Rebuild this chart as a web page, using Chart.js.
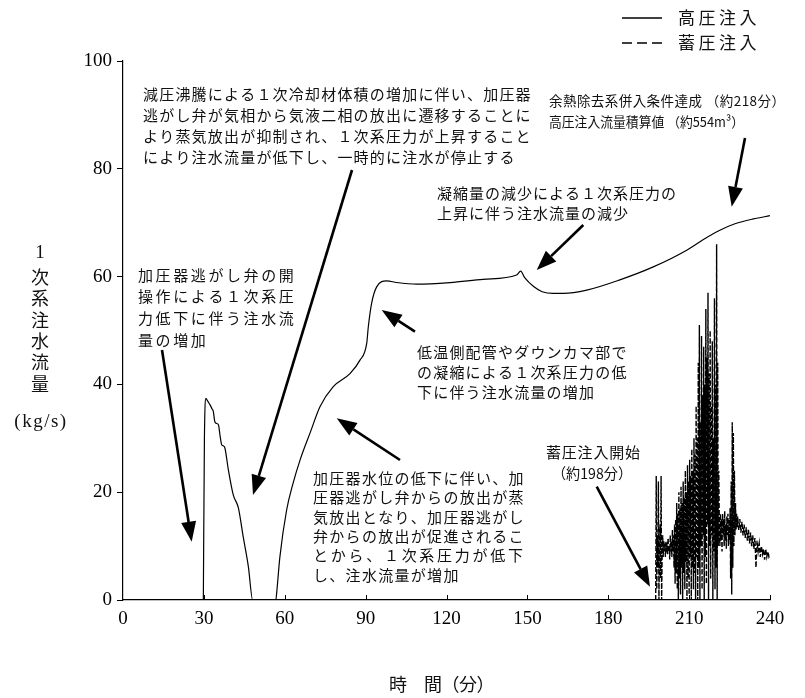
<!DOCTYPE html>
<html lang="ja">
<head>
<meta charset="utf-8">
<title>1次系注水流量</title>
<script src="https://cdn.jsdelivr.net/npm/chart.js@4.4.1/dist/chart.umd.min.js"></script>
<style>
  html, body { margin: 0; padding: 0; background: #fff; }
  #wrap { width: 805px; height: 698px; }
</style>
</head>
<body>
<div id="wrap"><canvas id="grafico" width="805" height="698"></canvas></div>
<script>
// Ejes
const xTicks = [0, 30, 60, 90, 120, 150, 180, 210, 240];
const yTicks = [0, 20, 40, 60, 80, 100];

// 高圧注入 (tiempo en min, caudal en kg/s)
const hpTime = [29.8, 30.2, 30.8, 31.3, 32.3, 33.0, 33.5, 34.0, 34.5, 35.4,
  36.0, 36.6, 37.2, 37.8, 39.1, 40.9, 42.8, 44.6, 46.5, 48.1,
  56.7, 57.0, 58.2, 60.7, 63.0, 65.7, 69.4, 73.1, 78.0, 84.2,
  87.9, 90.4, 91.0, 92.2, 94.1, 97.8, 101.5, 108.9, 121.3, 133.6,
  146.0, 147.5, 149.0, 152.2, 155.5, 159.6, 163.3, 172.0, 184.3, 196.7,
  209.1, 215.0, 221.4, 227.0, 233.8, 240.0];
const hpFlow = [0, 30, 37.4, 37.0, 36.2, 35.5, 35.0, 33.2, 32.8, 32.5,
  30.5, 28.8, 28.6, 28.2, 24.1, 19.5, 17.1, 11.7, 6.2, 0,
  0, 1.3, 8, 16.7, 21.5, 26, 31, 35.9, 39.6, 42,
  44.5, 47.6, 50.7, 55, 58.1, 59.2, 58.9, 58.6, 58.9, 59.5,
  60.3, 61.0, 59.8, 58.2, 57.2, 56.9, 56.9, 57.5, 59.4, 61.8,
  64.9, 66.8, 68.6, 69.8, 70.7, 71.3];

// 蓄圧注入 (tiempo en min, caudal en kg/s)
const accTime = [
  197.6, 197.8, 198.0, 198.2, 198.4, 198.6, 198.8, 199.0, 199.2, 199.4, 199.6, 199.8, 200.0, 200.2,
  200.4, 200.6, 200.8, 201.0, 201.2, 201.4, 201.6, 201.8, 202.0, 202.2, 202.4, 202.6, 202.8, 203.0,
  203.2, 203.4, 203.6, 203.8, 204.0, 204.2, 204.4, 204.6,
  204.8, 205.0, 205.2, 205.4, 205.6, 205.8, 206.0, 206.2, 206.4, 206.6, 206.8, 207.0, 207.2, 207.4,
  207.6, 207.8, 208.0, 208.2, 208.4, 208.6, 208.8, 209.0, 209.2, 209.4, 209.6, 209.8, 210.0, 210.2,
  210.4, 210.6, 210.8, 211.0, 211.2, 211.4, 211.6, 211.8,
  212.0, 212.2, 212.4, 212.6, 212.8, 213.0, 213.2, 213.4, 213.6, 213.8, 214.0, 214.2, 214.4, 214.6,
  214.8, 215.0, 215.2, 215.4, 215.6, 215.8, 216.0, 216.2, 216.4, 216.6, 216.8, 217.0, 217.2, 217.4,
  217.6, 217.8, 218.0, 218.2, 218.4, 218.6, 218.8, 219.0, 219.2, 219.4, 219.6, 219.8, 220.0, 220.2,
  220.4, 220.6, 220.8, 221.0,
  221.2, 221.4, 221.6, 221.8, 222.0, 222.2, 222.4, 222.6, 222.8, 223.0, 223.2, 223.4, 223.6, 223.8,
  224.0, 224.2, 224.4, 224.6, 224.8, 225.0, 225.2, 225.4, 225.6,
  225.8, 226.0, 226.2, 226.4, 226.6, 226.8, 227.0, 227.2,
  227.4, 227.6, 227.8, 228.0, 228.4, 228.8, 229.2, 229.6, 230.0, 230.4, 230.8, 231.2, 231.6, 232.0,
  232.4, 232.8, 233.2, 233.6, 234.0, 234.4, 234.8, 235.2, 235.6, 236.0, 236.4, 236.8, 237.2, 237.6,
  238.0, 238.4, 238.8, 239.2, 239.6, 240.0];
const accFlow = [
  0, 23, 2, 12, 6, 22, 0, 10, 14, 4, 23, 0, 9, 12,
  8, 11, 9, 10.5, 8, 11, 9.5, 10, 8.5, 11.5, 9, 10, 7.5, 12,
  9, 11, 8, 13, 9, 12, 6, 14,
  3, 15, 5, 18, 2, 16, 0, 20, 4, 17, 1, 21, 6, 18,
  0, 22, 5, 19, 2, 24, 7, 20, 0, 25, 4, 22, 1, 26,
  8, 23, 0, 28, 6, 24, 2, 30,
  5, 27, 0, 36, 8, 30, 0, 44, 6, 51, 0, 33, 10, 49,
  2, 38, 12, 47, 0, 40, 8, 54, 3, 45, 14, 57, 0, 42,
  10, 50, 4, 36, 12, 48, 0, 30, 9, 56, 2, 40, 6, 66,
  0, 44, 10, 24,
  14, 10, 16, 11, 15, 9, 16, 12, 15, 10, 16.5, 11, 14, 9.5,
  15.5, 12, 16, 10, 15, 11, 17, 4, 22,
  1, 33, 6, 31, 10, 24, 12, 18,
  13, 16, 13.5, 15.5, 13, 15, 12.5, 14.5, 12, 14, 11.5, 13.5, 11, 13,
  10.5, 12.5, 10, 12, 9.5, 11.5, 6, 11, 9, 10.5, 8, 10, 8.5, 9.5,
  7.5, 9.5, 8, 9, 8, 8.5];

// Textos explicativos (posición en píxeles, paso entre caracteres)
const notas = [
  { x: 143, y: 94, lh: 21, pitch: 16.2, size: 15, lines: [
    '減圧沸騰による１次冷却材体積の増加に伴い、加圧器',
    '逃がし弁が気相から気液二相の放出に遷移することに',
    'より蒸気放出が抑制され、１次系圧力が上昇すること',
    'により注水流量が低下し、一時的に注水が停止する'] },
  { x: 138, y: 275, lh: 21.7, pitch: 17.6, size: 15, lines: [
    '加圧器逃がし弁の開', '操作による１次系圧', '力低下に伴う注水流', '量の増加'] },
  { x: 417, y: 352, lh: 20, pitch: 16.2, size: 15, lines: [
    '低温側配管やダウンカマ部で', 'の凝縮による１次系圧力の低', '下に伴う注水流量の増加'] },
  { x: 313, y: 478, lh: 19.4, pitch: 16.3, size: 15, lines: [
    '加圧器水位の低下に伴い、加', '圧器逃がし弁からの放出が蒸', '気放出となり、加圧器逃がし',
    '弁からの放出が促進されるこ', { t: 'とから、１次系圧力が低下', w: 210 }, 'し、注水流量が増加'] },
  { x: 437, y: 193, lh: 20, pitch: 16, size: 15, lines: [
    '凝縮量の減少による１次系圧力の', '上昇に伴う注水流量の減少'] },
  { x: 549, y: 101, lh: 21, pitch: 14, size: 13.5, lines: [
    { t: '余熱除去系併入条件達成 （約218分）', w: 236 },
    { t: '高圧注入流量積算値 （約554m³）', w: 195 }] },
  { x: 546, y: 452, lh: 21, pitch: 15.8, size: 15, lines: [
    '蓄圧注入開始', { t: '（約198分）', w: 80, dx: 6 }] }
];

// Flechas: [x cola, y cola, x punta, y punta]
const flechas = [
  [352, 170, 253, 495],
  [162, 350, 191.7, 541.7],
  [415, 331.7, 381.7, 310],
  [400, 460, 336.7, 418.3],
  [583.3, 225, 536.7, 270],
  [745, 138, 731.7, 206.7],
  [596.7, 486.7, 650, 586.7]
];

const fuenteJP = '"Noto Sans CJK JP", sans-serif';
const fuenteNum = '"Liberation Serif", "Noto Sans CJK JP", serif';

function dibujarFlecha(ctx, x1, y1, x2, y2) {
  const ang = Math.atan2(y2 - y1, x2 - x1);
  const L = 20, W = 7.5;
  const bx = x2 - L * Math.cos(ang), by = y2 - L * Math.sin(ang);
  ctx.lineWidth = 2.6;
  ctx.beginPath();
  ctx.moveTo(x1, y1);
  ctx.lineTo(bx, by);
  ctx.stroke();
  ctx.beginPath();
  ctx.moveTo(x2, y2);
  ctx.lineTo(bx + W * Math.sin(ang), by - W * Math.cos(ang));
  ctx.lineTo(bx - W * Math.sin(ang), by + W * Math.cos(ang));
  ctx.closePath();
  ctx.fill();
}

function dibujarLinea(ctx, linea, x, y, pitch) {
  if (typeof linea === 'string') {
    [...linea].forEach((c, i) => ctx.fillText(c, x + i * pitch, y));
    return;
  }
  // linea ajustada a un ancho dado
  const x0 = x + (linea.dx || 0);
  ctx.letterSpacing = '0px';
  const n = [...linea.t].length;
  const m = ctx.measureText(linea.t).width;
  if (m > linea.w) {
    ctx.save();
    ctx.translate(x0, y);
    ctx.scale(linea.w / m, 1);
    ctx.fillText(linea.t, 0, 0);
    ctx.restore();
  } else {
    ctx.letterSpacing = ((linea.w - m) / (n - 1)) + 'px';
    ctx.fillText(linea.t, x0, y);
    ctx.letterSpacing = '0px';
  }
}

const anotaciones = {
  id: 'anotaciones',
  afterDraw(chart) {
    const ctx = chart.ctx;
    const xs = chart.scales.x;
    const area = chart.chartArea;
    ctx.save();
    ctx.strokeStyle = '#000';
    ctx.fillStyle = '#000';

    // Marcas interiores del eje X
    ctx.lineWidth = 1;
    xTicks.slice(1).forEach(v => {
      const px = Math.round(xs.getPixelForValue(v)) + 0.5;
      ctx.beginPath();
      ctx.moveTo(px, area.bottom);
      ctx.lineTo(px, area.bottom - 5);
      ctx.stroke();
    });

    // Textos
    ctx.fillStyle = '#111';
    ctx.textBaseline = 'middle';
    ctx.textAlign = 'left';
    notas.forEach(n => {
      ctx.font = n.size + 'px ' + fuenteJP;
      n.lines.forEach((l, i) => dibujarLinea(ctx, l, n.x, n.y + i * n.lh, n.pitch));
    });

    // Flechas
    ctx.fillStyle = '#000';
    flechas.forEach(f => dibujarFlecha(ctx, f[0], f[1], f[2], f[3]));

    // Leyenda
    ctx.lineWidth = 1.5;
    ctx.beginPath();
    ctx.moveTo(622, 18);
    ctx.lineTo(662, 18);
    ctx.stroke();
    ctx.setLineDash([10, 5]);
    ctx.beginPath();
    ctx.moveTo(622, 43);
    ctx.lineTo(662, 43);
    ctx.stroke();
    ctx.setLineDash([]);
    ctx.fillStyle = '#111';
    ctx.font = '17px ' + fuenteJP;
    dibujarLinea(ctx, '高圧注入', 678, 18, 20.5);
    dibujarLinea(ctx, '蓄圧注入', 678, 43, 20.5);

    // Título del eje Y (vertical)
    ctx.textAlign = 'center';
    ctx.font = '19px ' + fuenteNum;
    ctx.fillText('1', 40, 253);
    ctx.font = '18px ' + fuenteJP;
    [...'次系注水流量'].forEach((c, i) => ctx.fillText(c, 40, 277 + i * 21.4));
    ctx.font = '19px ' + fuenteNum;
    ctx.letterSpacing = '1.5px';
    ctx.fillText('(kg/s)', 41, 422);
    ctx.letterSpacing = '0px';

    // Título del eje X
    ctx.textAlign = 'left';
    ctx.font = '18px ' + fuenteJP;
    dibujarLinea(ctx, '時　間（分）', 389, 684, 17.5);
    ctx.restore();
  }
};

const ctx = document.getElementById('grafico').getContext('2d');
const grafico = new Chart(ctx, {
  type: 'line',
  data: {
    datasets: [
      {
        label: '高圧注入',
        data: hpTime.map((t, i) => ({ x: t, y: hpFlow[i] })),
        borderColor: '#000',
        borderWidth: 1.2,
        pointRadius: 0,
        cubicInterpolationMode: 'monotone',
        fill: false
      },
      {
        label: '蓄圧注入',
        data: accTime.map((t, i) => ({ x: t, y: accFlow[i] })),
        borderColor: '#000',
        borderWidth: 1.4,
        borderDash: [5, 2],
        pointRadius: 0,
        tension: 0,
        fill: false
      }
    ]
  },
  options: {
    responsive: false,
    animation: false,
    layout: { padding: { left: 0, top: 61, right: 35, bottom: 0 } },
    plugins: { legend: { display: false }, tooltip: { enabled: false } },
    scales: {
      x: {
        type: 'linear',
        min: 0,
        max: 240,
        afterFit: s => { s.height = 98; },
        afterBuildTicks: s => { s.ticks = xTicks.map(v => ({ value: v })); },
        grid: { display: false, drawTicks: false },
        border: { display: true, color: '#000', width: 1.2 },
        ticks: { color: '#000', font: { family: fuenteNum, size: 19 }, padding: 8, maxRotation: 0, autoSkip: false }
      },
      y: {
        type: 'linear',
        min: 0,
        max: 100,
        afterFit: s => { s.width = 123; },
        afterBuildTicks: s => { s.ticks = yTicks.map(v => ({ value: v })); },
        grid: { display: true, drawOnChartArea: false, drawTicks: true, tickLength: 6, color: '#000' },
        border: { display: true, color: '#000', width: 1.2 },
        ticks: { color: '#000', font: { family: fuenteNum, size: 19 }, padding: 5, autoSkip: false }
      }
    }
  },
  plugins: [anotaciones]
});
</script>
</body>
</html>
